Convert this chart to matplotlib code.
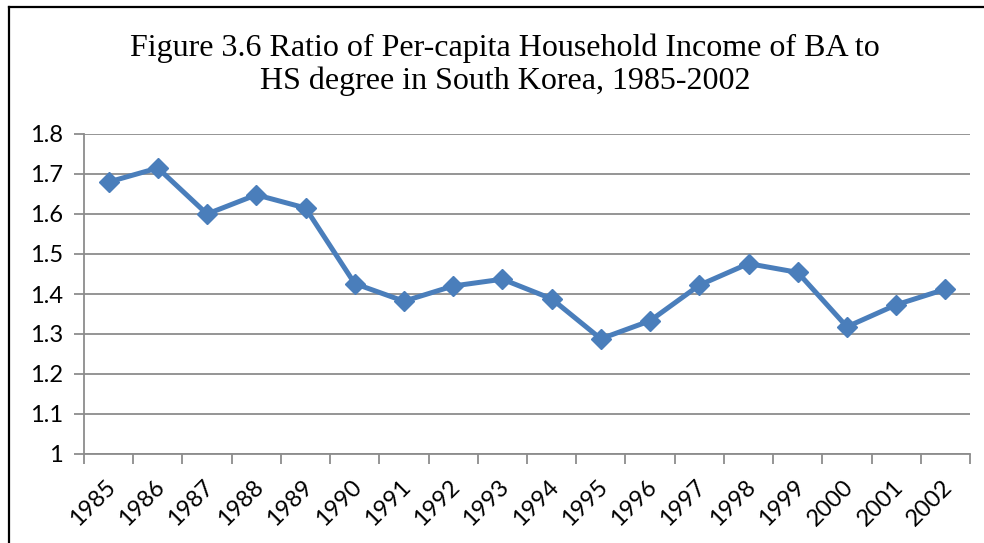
import matplotlib

matplotlib.use("Agg")

import matplotlib.pyplot as plt
from matplotlib.lines import Line2D
from matplotlib.ticker import FixedLocator
from matplotlib.transforms import ScaledTranslation

YEARS = [str(y) for y in range(1985, 2003)]
RATIO = [1.68, 1.715, 1.60, 1.648, 1.615, 1.426, 1.382, 1.42, 1.437, 1.388,
         1.288, 1.333, 1.422, 1.476, 1.454, 1.318, 1.373, 1.412]
Y_TICKS = [1.0, 1.1, 1.2, 1.3, 1.4, 1.5, 1.6, 1.7, 1.8]
Y_LABELS = ["1", "1.1", "1.2", "1.3", "1.4", "1.5", "1.6", "1.7", "1.8"]

TITLE = ("Figure 3.6 Ratio of Per-capita Household Income of BA to\n"
         "HS degree in South Korea, 1985-2002")
LINE_COLOR = "#4A7EBB"
GRID_COLOR = "#8C8C8C"

fig = plt.figure(figsize=(9.84, 5.43), dpi=100)
ax = fig.add_axes([84 / 984, 89 / 543, 886 / 984, 320 / 543])

x = list(range(len(YEARS)))
ax.plot(x, RATIO, color=LINE_COLOR, linewidth=3.6, marker="D",
        markersize=10.5, markerfacecolor=LINE_COLOR, markeredgecolor=LINE_COLOR,
        zorder=3)

ax.set_xlim(-0.5, len(YEARS) - 0.5)
ax.set_ylim(1.0, 1.8)
ax.set_yticks(Y_TICKS)
ax.set_yticklabels(Y_LABELS, family="Lato", fontsize=17)
ax.grid(True, axis="y", color=GRID_COLOR, linewidth=1.3)
ax.set_axisbelow(True)

ax.xaxis.set_major_locator(FixedLocator([i - 0.5 for i in range(len(YEARS) + 1)]))
ax.xaxis.set_minor_locator(FixedLocator(x))
ax.set_xticklabels([], minor=False)
ax.set_xticklabels(YEARS, minor=True, rotation=45, ha="right",
                   rotation_mode="anchor", fontsize=17, family="Lato")
ax.tick_params(axis="x", which="major", length=7, width=1.3, color=GRID_COLOR,
               direction="out")
ax.tick_params(axis="x", which="minor", length=0, pad=16)
ax.tick_params(axis="y", length=7, width=1.3, color=GRID_COLOR,
               direction="out", pad=8)

# nudge the rotated year labels a little to the left
shift = ScaledTranslation(-4 / 100, 0, fig.dpi_scale_trans)
for label in ax.get_xticklabels(minor=True):
    label.set_transform(label.get_transform() + shift)

for side in ("top", "right"):
    ax.spines[side].set_visible(False)
for side in ("left", "bottom"):
    ax.spines[side].set_color(GRID_COLOR)
    ax.spines[side].set_linewidth(1.3)

fig.text(505 / 984, 1 - 65 / 543, TITLE, ha="center", va="center",
         fontsize=23, family="Liberation Serif", linespacing=1.15)

# outer chart border (left and top edges visible)
fig.add_artist(Line2D([8.5 / 984, 8.5 / 984], [0, 1 - 6.5 / 543],
                      color="black", linewidth=1.6, transform=fig.transFigure))
fig.add_artist(Line2D([8.5 / 984, 1], [1 - 6.5 / 543, 1 - 6.5 / 543],
                      color="black", linewidth=1.6, transform=fig.transFigure))

fig.savefig("out.png", dpi=100)
